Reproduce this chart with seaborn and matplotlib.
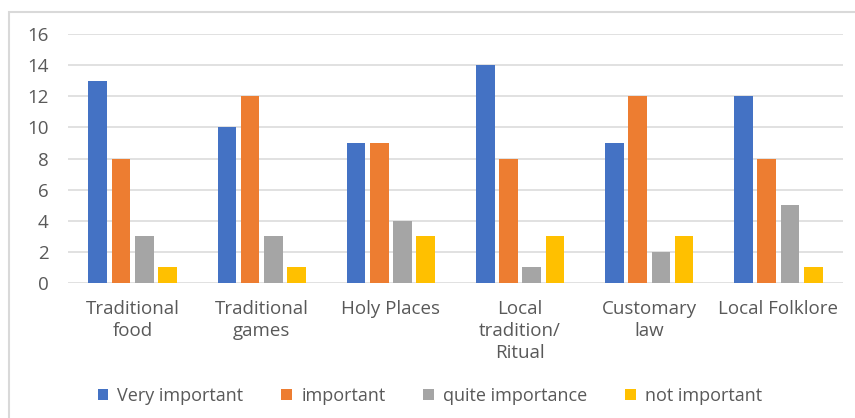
import matplotlib
matplotlib.use("Agg")
import matplotlib.pyplot as plt
from matplotlib.patches import Rectangle
import seaborn as sns
import pandas as pd

categories = ["Traditional\nfood", "Traditional\ngames", "Holy Places",
              "Local\ntradition/\nRitual", "Customary\nlaw", "Local Folklore"]
series = ["Very important", "important", "quite importance", "not important"]
very_important = [13, 10, 9, 14, 9, 12]
important = [8, 12, 9, 8, 12, 8]
quite_importance = [3, 3, 4, 1, 2, 5]
not_important = [1, 1, 3, 3, 3, 1]
colors = ["#4472C4", "#ED7D31", "#A5A5A5", "#FFC000"]
y_ticks = [0, 2, 4, 6, 8, 10, 12, 14, 16]

rows = []
for name, vals in zip(series, [very_important, important, quite_importance, not_important]):
    for cat, v in zip(categories, vals):
        rows.append({"category": cat, "series": name, "value": v})
df = pd.DataFrame(rows)

sns.set_style("white")
plt.rcParams["font.family"] = ["Open Sans", "DejaVu Sans"]
text_color = "#595959"
grid_color = "#D9D9D9"

fig = plt.figure(figsize=(8.55, 4.18), dpi=100)
ax = fig.add_axes([68 / 855, 1 - 283 / 418, (843 - 68) / 855, (283 - 34) / 418])

sns.barplot(data=df, x="category", y="value", hue="series", order=categories,
            hue_order=series, palette=colors, width=0.72, gap=0.2,
            saturation=1, ax=ax, legend=True, linewidth=0)

ax.set_ylim(0, 16)
ax.set_yticks(y_ticks)
ax.set_xlim(-0.5, len(categories) - 0.5)
ax.set_xlabel("")
ax.set_ylabel("")
for s in ax.spines.values():
    s.set_visible(False)
ax.yaxis.grid(True, color=grid_color, linewidth=1.1)
ax.set_axisbelow(True)
ax.tick_params(axis="both", length=0, colors=text_color, labelsize=13.5)
ax.tick_params(axis="y", pad=14)
ax.tick_params(axis="x", pad=12)
for lbl in ax.get_xticklabels():
    lbl.set_linespacing(1.3)
    lbl.set_verticalalignment("top")

handles, labels = ax.get_legend_handles_labels()
ax.get_legend().remove()
fig.legend(handles, labels, loc="center", bbox_to_anchor=(430 / 855, 1 - 396 / 418),
           ncol=4, frameon=False, fontsize=13, labelcolor=text_color,
           handlelength=0.6, handleheight=0.6, handletextpad=0.5, columnspacing=2.1)

fig.add_artist(Rectangle((9 / 855, -0.1), 1.2, 0.1 + 1 - 12 / 418,
                         transform=fig.transFigure, fill=False,
                         edgecolor=grid_color, linewidth=1.5, clip_on=False))

fig.savefig("out.png", dpi=100)
